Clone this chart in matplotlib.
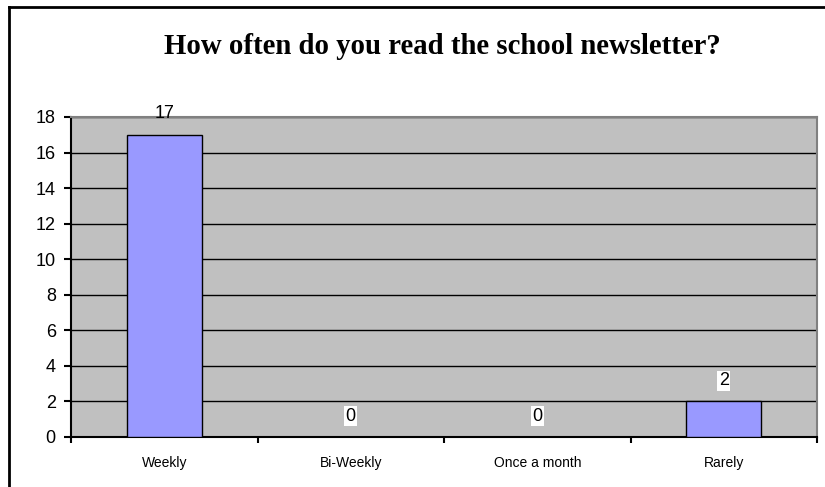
import matplotlib.pyplot as plt
from matplotlib.lines import Line2D
import numpy as np

# Réponses au sondage
categories = ["Weekly", "Bi-Weekly", "Once a month", "Rarely"]
reponses = [17, 0, 0, 2]
graduations = [0, 2, 4, 6, 8, 10, 12, 14, 16, 18]
titre = "How often do you read the school newsletter?"

plt.rcParams['font.family'] = ['Liberation Sans', 'DejaVu Sans']

fig = plt.figure(figsize=(8.25, 4.87), dpi=100)
ax = fig.add_axes([0.0861, 0.1027, 0.9042, 0.6571])

x = np.arange(len(categories))
ax.set_facecolor("#C0C0C0")
ax.bar(x, reponses, width=0.4, color="#9999FF", edgecolor="black", linewidth=1, zorder=3)

ax.set_xlim(-0.5, len(categories) - 0.5)
ax.set_ylim(0, 18)
ax.set_yticks(graduations)
ax.yaxis.grid(True, color="black", linewidth=1, zorder=1)
ax.set_axisbelow(True)

# Graduations en x aux limites des catégories, noms au centre
ax.set_xticks(np.arange(len(categories) + 1) - 0.5)
ax.set_xticklabels([])
ax.set_xticks(x, minor=True)
ax.set_xticklabels(categories, minor=True, fontsize=10)
ax.tick_params(axis='x', which='minor', length=0, pad=14)
ax.tick_params(axis='x', which='major', length=4, width=1.5, direction='out')
ax.tick_params(axis='y', length=5, width=1.5, direction='out', labelsize=13, pad=6)

for cote in ["left", "bottom"]:
    ax.spines[cote].set_color("black")
    ax.spines[cote].set_linewidth(1.5)
for cote in ["top", "right"]:
    ax.spines[cote].set_color("#808080")
    ax.spines[cote].set_linewidth(1.5)

# Valeurs au-dessus des barres
for xi, v in zip(x, reponses):
    boite = None if v >= 17 else dict(facecolor="white", edgecolor="none", pad=1)
    ax.annotate(str(v), (xi, v), xytext=(0, 15), textcoords="offset points",
                ha="center", va="center", fontsize=13, bbox=boite,
                annotation_clip=False, zorder=5)

fig.text(0.5365, 0.889, titre, ha="center", va="baseline", fontsize=20.7,
         fontweight="bold", family=["Liberation Serif", "DejaVu Serif"])

# Cadre du graphique
fig.add_artist(Line2D([0.0115, 0.0115], [0.0, 0.985], color="black", linewidth=2,
                      transform=fig.transFigure))
fig.add_artist(Line2D([0.0115, 1.0], [0.985, 0.985], color="black", linewidth=2,
                      transform=fig.transFigure))

plt.savefig("out.png", dpi=100)
